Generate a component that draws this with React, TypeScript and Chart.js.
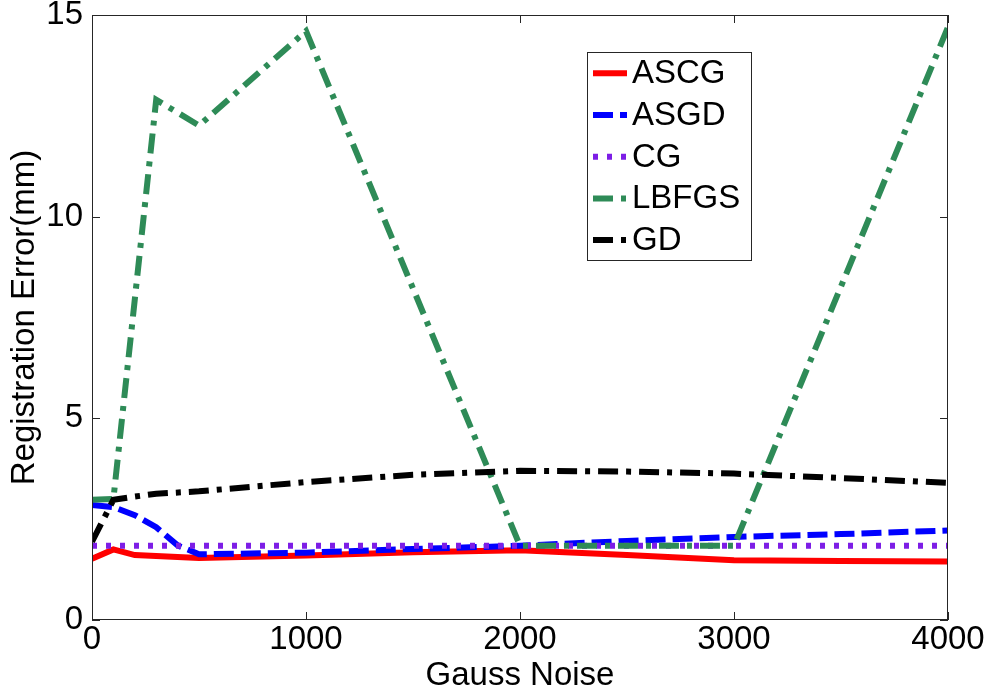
import React, { useEffect, useRef } from "react";
import { Chart, registerables } from "chart.js";

Chart.register(...registerables);

// ---- Data ----
const seriesNames = ["ASCG", "ASGD", "CG", "LBFGS", "GD"];

const ascgX = [0, 100, 200, 500, 1000, 1500, 2000, 2500, 3000, 3500, 4000];
const ascgY = [1.52, 1.75, 1.61, 1.54, 1.6, 1.68, 1.73, 1.61, 1.48, 1.46, 1.45];

const asgdX = [0, 100, 200, 300, 400, 500, 1000, 1500, 2000, 2500, 3000, 3500, 4000];
const asgdY = [2.85, 2.8, 2.6, 2.3, 1.85, 1.63, 1.67, 1.76, 1.84, 1.96, 2.06, 2.13, 2.22];

const cgX = [0, 4000];
const cgY = [1.84, 1.84];

const lbfgsX = [0, 100, 300, 500, 1000, 2000, 3000, 4000];
const lbfgsY = [2.98, 3.0, 12.9, 12.26, 14.6, 1.84, 1.84, 14.7];

const gdX = [0, 100, 200, 300, 500, 1000, 1500, 2000, 2500, 3000, 3500, 4000];
const gdY = [1.94, 2.98, 3.06, 3.13, 3.19, 3.42, 3.6, 3.7, 3.68, 3.63, 3.52, 3.4];

const xTicks = [0, 1000, 2000, 3000, 4000];
const yTicks = [0, 5, 10, 15];

const FONT = "'Liberation Sans', Arial, Helvetica, sans-serif";
const FS = 33;
const LW = 6;

function pts(xs: number[], ys: number[]) {
  return xs.map((x, i) => ({ x, y: ys[i] }));
}

const framePlugin = {
  id: "matlabFrame",
  afterDraw(chart: any) {
    const { ctx, chartArea } = chart;
    const { left, top, right, bottom } = chartArea;
    ctx.save();
    ctx.strokeStyle = "#262626";
    ctx.lineWidth = 1;
    ctx.setLineDash([]);
    ctx.strokeRect(Math.round(left) + 0.5, Math.round(top) + 0.5, Math.round(right - left) - 1, Math.round(bottom - top) - 1);
    const xs = chart.scales.x;
    const ys = chart.scales.y;
    const tl = 8;
    ctx.beginPath();
    xs.ticks.forEach((t: any) => {
      const px = Math.round(xs.getPixelForValue(t.value)) + 0.5;
      ctx.moveTo(px, bottom);
      ctx.lineTo(px, bottom - tl);
      ctx.moveTo(px, top);
      ctx.lineTo(px, top + tl);
    });
    ys.ticks.forEach((t: any) => {
      const py = Math.round(ys.getPixelForValue(t.value)) + 0.5;
      ctx.moveTo(left, py);
      ctx.lineTo(left + tl, py);
      ctx.moveTo(right, py);
      ctx.lineTo(right - tl, py);
    });
    ctx.stroke();

    // legend
    const bx = 587, by = 52, bw = 164, bh = 208;
    ctx.fillStyle = "#ffffff";
    ctx.fillRect(bx, by, bw, bh);
    ctx.strokeStyle = "#262626";
    ctx.strokeRect(bx + 0.5, by + 0.5, bw, bh);
    const rowH = 41.7;
    chart.data.datasets.forEach((ds: any, i: number) => {
      const cy = by + 21.3 + i * rowH;
      ctx.save();
      ctx.strokeStyle = ds.borderColor;
      ctx.lineWidth = ds.borderWidth;
      ctx.lineCap = "butt";
      ctx.setLineDash(ds.borderDash || []);
      ctx.beginPath();
      ctx.moveTo(bx + 6, cy);
      ctx.lineTo(bx + 40, cy);
      ctx.stroke();
      ctx.restore();
      ctx.fillStyle = "#000";
      ctx.font = `${FS}px ${FONT}`;
      ctx.textBaseline = "middle";
      ctx.textAlign = "left";
      ctx.fillText(ds.label, bx + 45, cy + 1);
    });
    ctx.restore();
  },
};

export default function App() {
  const ref = useRef<HTMLCanvasElement | null>(null);
  useEffect(() => {
    document.body.style.margin = "0";
    const canvas = ref.current;
    if (!canvas) return;
    const chart = new Chart(canvas, {
      type: "line",
      data: {
        datasets: [
          { label: seriesNames[0], data: pts(ascgX, ascgY), borderColor: "#ff0000", borderWidth: LW, borderDash: [], order: 5 },
          { label: seriesNames[1], data: pts(asgdX, asgdY), borderColor: "#0000ff", borderWidth: LW, borderDash: [20, 7], order: 4 },
          { label: seriesNames[2], data: pts(cgX, cgY), borderColor: "#7d1de6", borderWidth: LW, borderDash: [5, 9], order: 3 },
          { label: seriesNames[3], data: pts(lbfgsX, lbfgsY), borderColor: "#2e8b57", borderWidth: LW, borderDash: [20, 8, 5, 8], order: 2 },
          { label: seriesNames[4], data: pts(gdX, gdY), borderColor: "#000000", borderWidth: LW, borderDash: [20, 8, 5, 8], order: 1 },
        ] as any,
      },
      options: {
        animation: false,
        responsive: true,
        maintainAspectRatio: false,
        layout: { padding: { top: 15, right: 41, left: 0, bottom: 0 } },
        elements: {
          point: { radius: 0, hoverRadius: 0 },
          line: { tension: 0, borderCapStyle: "butt", borderJoinStyle: "miter" },
        },
        plugins: {
          legend: { display: false },
          tooltip: { enabled: false },
        },
        scales: {
          x: {
            type: "linear",
            min: 0,
            max: 4000,
            afterBuildTicks: (s: any) => {
              s.ticks = xTicks.map((v) => ({ value: v }));
            },
            afterFit: (s: any) => {
              s.height = 78;
              s.paddingLeft = 0;
              s.paddingRight = 0;
            },
            ticks: {
              color: "#000",
              font: { family: FONT, size: FS, lineHeight: 1 },
              padding: 3,
              maxRotation: 0,
              autoSkip: false,
              callback: (v: any) => String(v),
            },
            grid: { display: false, drawTicks: false },
            border: { display: false },
            title: {
              display: true,
              text: "Gauss Noise",
              color: "#000",
              font: { family: FONT, size: FS, lineHeight: 1.2 },
              padding: { top: 0, bottom: 2 },
            },
          },
          y: {
            type: "linear",
            min: 0,
            max: 15,
            afterBuildTicks: (s: any) => {
              s.ticks = yTicks.map((v) => ({ value: v }));
            },
            afterFit: (s: any) => {
              s.width = 92;
              s.paddingTop = 0;
              s.paddingBottom = 0;
            },
            ticks: {
              color: "#000",
              font: { family: FONT, size: FS, lineHeight: 1 },
              padding: 9,
              autoSkip: false,
              callback: (v: any) => String(v),
            },
            grid: { display: false, drawTicks: false },
            border: { display: false },
            title: {
              display: true,
              text: "Registration Error(mm)",
              color: "#000",
              font: { family: FONT, size: FS, lineHeight: 1.2 },
              padding: { top: 5, bottom: 0 },
            },
          },
        },
      },
      plugins: [framePlugin],
    } as any);
    return () => chart.destroy();
  }, []);

  return (
    <div style={{ width: 989, height: 698, position: "relative" }}>
      <canvas ref={ref} />
    </div>
  );
}
